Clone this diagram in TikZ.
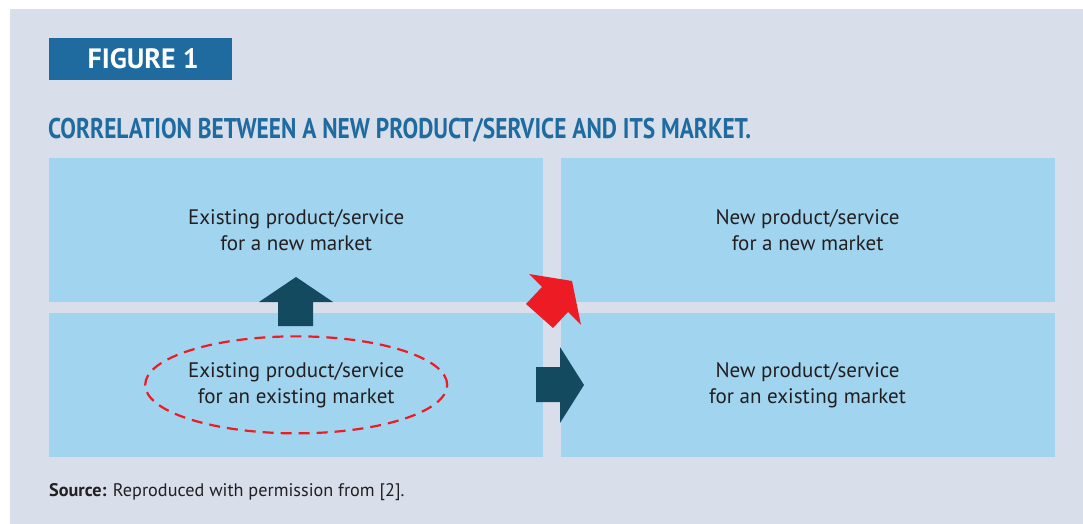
\documentclass[tikz,border=0pt]{standalone}
\usepackage{fontspec}
\setmainfont{PT Sans}
\newfontfamily\condfont[FakeStretch=0.82]{PT Sans}
\usetikzlibrary{positioning}
\definecolor{bgblue}{HTML}{D8DFEB}
\definecolor{cellblue}{HTML}{A0D4EF}
\definecolor{titleblue}{HTML}{1F6BA0}
\definecolor{arrowteal}{HTML}{134A5F}
\definecolor{arrowred}{HTML}{ED1C24}
\definecolor{textgray}{HTML}{231F20}
\tikzset{
	cell/.style={fill=cellblue, minimum width=494pt, minimum height=143.5pt, inner sep=0pt,
		align=center, text=textgray, font=\fontsize{21}{26}\selectfont},
	figlabel/.style={fill=titleblue, minimum width=183pt, minimum height=42pt, inner sep=0pt,
		text=white, font=\fontsize{28}{30}\selectfont\bfseries},
}
\begin{document}
\begin{tikzpicture}[x=1pt,y=-1pt]
	\useasboundingbox (0,0) rectangle (1083,524);
	\fill[white] (0,0) rectangle (1083,524);
	\fill[bgblue] (10,9) rectangle (1083,524);
	% heading
	\node[figlabel, anchor=north west] (fig) at (49,38) {\hspace*{5pt}FIGURE 1};
	\node[anchor=base west, inner sep=0pt, text=titleblue,
		font=\fontsize{28.5}{30}\condfont\bfseries] (title) at (48,138)
		{CORRELATION BETWEEN A NEW PRODUCT/SERVICE AND ITS MARKET.};
	% the four fields
	\node[cell, anchor=north west] (tl) at (49,158) {Existing product/service\\for a new market};
	\node[cell, right=17pt of tl] (tr) {New product/service\\for a new market};
	\node[cell, below=11pt of tl] (bl) {Existing product/service\\for an existing market};
	\node[cell, right=17pt of bl] (br) {New product/service\\for an existing market};
	\draw[arrowred, line width=2.2pt, dash pattern=on 11pt off 7pt] (bl.center) ellipse [x radius=151pt, y radius=48.5pt];
	% arrows
	\fill[arrowteal] (278,326)--(278,302)--(259,302)--(296,277)--(333,302)--(313,302)--(313,326)--cycle;
	\fill[arrowteal] (536,367)--(560,367)--(560,347)--(584,385)--(560,423)--(560,402)--(536,402)--cycle;
	\fill[arrowred] (529,274)--(572,281)--(581,325)--(568,312)--(553,328)--(526,304)--(542,287)--cycle;
	% source
	\node[anchor=base west, inner sep=0pt, text=textgray, font=\fontsize{18.2}{20}\selectfont] (src) at (49,496)
		{\textbf{Source:} Reproduced with permission from [2].};
\end{tikzpicture}
\end{document}
